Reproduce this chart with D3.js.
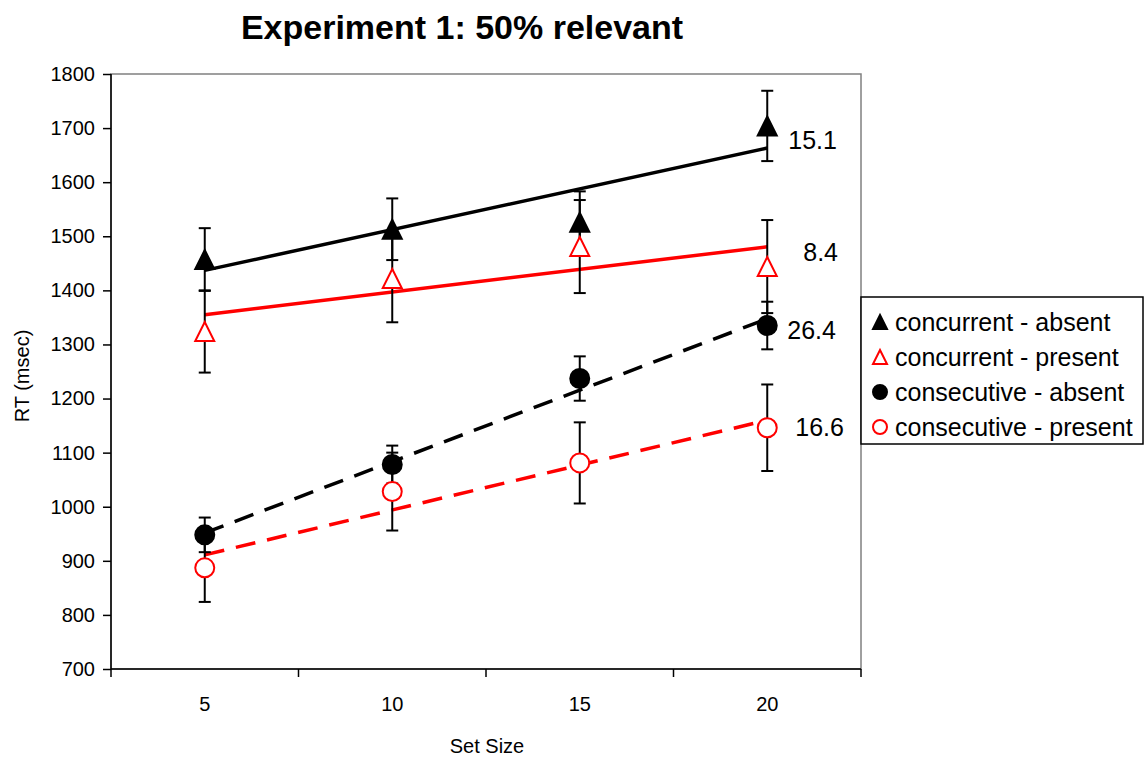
<!DOCTYPE html>
<html>
<head>
<meta charset="utf-8">
<script src="https://cdn.jsdelivr.net/npm/d3@7"></script>
<style>
  body { margin: 0; background: white; }
  text { font-family: Arial, "Liberation Sans", sans-serif; }
</style>
</head>
<body>
<div id="chart"></div>
<script>
// Datos
var setSizes = [5, 10, 15, 20];
var seriesNames = ["concurrent - absent", "concurrent - present", "consecutive - absent", "consecutive - present"];

var concAbsent    = [1457, 1513, 1526, 1704];
var concAbsentSE  = [58, 57, 57, 65];
var concPresent   = [1324, 1422, 1481, 1444];
var concPresentSE = [76, 81, 86, 86];
var consAbsent    = [948, 1078, 1237, 1335];
var consAbsentSE  = [32, 35, 41, 44];
var consPresent   = [887, 1028, 1081, 1146];
var consPresentSE = [63, 72, 75, 80];

var yTicks = [700, 800, 900, 1000, 1100, 1200, 1300, 1400, 1500, 1600, 1700, 1800];

// estilos por serie
var estilos = [
  {shape: "triangle", color: "black", fill: "black", dash: null, ldx: 21, ldy: -8},
  {shape: "triangle", color: "red",   fill: "white", dash: null, ldx: 36, ldy: 5},
  {shape: "circle",   color: "black", fill: "black", dash: "20,12", ldx: 20, ldy: 11},
  {shape: "circle",   color: "red",   fill: "white", dash: "20,12", ldx: 28, ldy: 7}
];

var series = [
  {name: seriesNames[0], values: concAbsent,  se: concAbsentSE},
  {name: seriesNames[1], values: concPresent, se: concPresentSE},
  {name: seriesNames[2], values: consAbsent,  se: consAbsentSE},
  {name: seriesNames[3], values: consPresent, se: consPresentSE}
];

var width = 1144, height = 757;
var margin = {top: 74, left: 111, right: 283, bottom: 88};

var svg = d3.select("#chart").append("svg")
  .attr("width", width)
  .attr("height", height);

svg.append("rect").attr("width", width).attr("height", height).attr("fill", "white");

var x = d3.scaleBand()
  .domain(setSizes)
  .range([margin.left, width - margin.right]);

var y = d3.scaleLinear()
  .domain([700, 1800])
  .range([height - margin.bottom, margin.top]);

var cx = function(d) { return x(d) + x.bandwidth() / 2; };

// borde del area de grafico
svg.append("rect")
  .attr("x", margin.left).attr("y", margin.top)
  .attr("width", width - margin.right - margin.left)
  .attr("height", height - margin.bottom - margin.top)
  .attr("fill", "none").attr("stroke", "#808080").attr("stroke-width", 1.5);

// Ejes
var ejeY = d3.axisLeft(y).tickValues(yTicks).tickFormat(d3.format("d")).tickSize(8).tickPadding(8);
var gY = svg.append("g")
  .attr("transform", "translate(" + margin.left + ",0)")
  .call(ejeY);
gY.selectAll("text").style("font-size", "20px").attr("fill", "black");
gY.selectAll("line, path").attr("stroke", "black").attr("stroke-width", 1.5);
gY.select(".domain").attr("d", "M0," + y(700) + "V" + y(1800));

var gX = svg.append("g")
  .attr("transform", "translate(0," + y(700) + ")");
gX.append("line")
  .attr("x1", margin.left).attr("x2", width - margin.right)
  .attr("stroke", "black").attr("stroke-width", 1.5);
var bordes = setSizes.map(function(d) { return x(d); }).concat([width - margin.right]);
gX.selectAll(".tk").data(bordes).join("line")
  .attr("class", "tk")
  .attr("x1", d => d).attr("x2", d => d)
  .attr("y1", 0).attr("y2", 8)
  .attr("stroke", "black").attr("stroke-width", 1.5);
gX.selectAll(".lbl").data(setSizes).join("text")
  .attr("class", "lbl")
  .attr("x", cx).attr("y", 42)
  .attr("text-anchor", "middle")
  .style("font-size", "20px")
  .text(d => d);

// titulos
svg.append("text")
  .attr("x", 462).attr("y", 39)
  .attr("text-anchor", "middle")
  .style("font-size", "34px").style("font-weight", "bold")
  .text("Experiment 1: 50% relevant");

svg.append("text")
  .attr("x", 487).attr("y", 753)
  .attr("text-anchor", "middle")
  .style("font-size", "20px")
  .text("Set Size");

svg.append("text")
  .attr("transform", "translate(29,376) rotate(-90)")
  .attr("text-anchor", "middle")
  .style("font-size", "20px")
  .text("RT (msec)");

// regresion lineal para las lineas de tendencia
function regresion(xs, ys) {
  var mx = d3.mean(xs), my = d3.mean(ys);
  var sxy = d3.sum(xs, (v, i) => (v - mx) * (ys[i] - my));
  var sxx = d3.sum(xs, v => (v - mx) * (v - mx));
  var b = sxy / sxx;
  return {slope: b, intercept: my - b * mx};
}

function triangulo(w, h) {
  return "M0," + (-h / 2) + "L" + (w / 2) + "," + (h / 2) + "L" + (-w / 2) + "," + (h / 2) + "Z";
}

function marcador(g, st, size) {
  if (st.shape === "triangle") {
    return g.append("path").attr("d", triangulo(size, size))
      .attr("fill", st.fill).attr("stroke", st.color).attr("stroke-width", 2);
  }
  return g.append("circle").attr("r", size / 2)
    .attr("fill", st.fill).attr("stroke", st.color).attr("stroke-width", 2);
}

// lineas de tendencia
series.forEach(function(s, i) {
  var st = estilos[i];
  var r = regresion(setSizes, s.values);
  var x0 = setSizes[0], x1 = setSizes[setSizes.length - 1];
  var linea = svg.append("line")
    .attr("x1", cx(x0)).attr("y1", y(r.intercept + r.slope * x0))
    .attr("x2", cx(x1)).attr("y2", y(r.intercept + r.slope * x1))
    .attr("stroke", st.color).attr("stroke-width", 3.5);
  if (st.dash) linea.attr("stroke-dasharray", st.dash);

  svg.append("text")
    .attr("x", cx(x1) + st.ldx)
    .attr("y", y(r.intercept + r.slope * x1) + st.ldy)
    .attr("dy", "0.36em")
    .style("font-size", "25px")
    .text(d3.format(".1f")(r.slope));
});

// barras de error
series.forEach(function(s) {
  var g = svg.append("g").attr("stroke", "black").attr("stroke-width", 2);
  setSizes.forEach(function(k, j) {
    var px = cx(k);
    var top = y(s.values[j] + s.se[j]), bot = y(s.values[j] - s.se[j]);
    g.append("line").attr("x1", px).attr("x2", px).attr("y1", top).attr("y2", bot);
    g.append("line").attr("x1", px - 6).attr("x2", px + 6).attr("y1", top).attr("y2", top);
    g.append("line").attr("x1", px - 6).attr("x2", px + 6).attr("y1", bot).attr("y2", bot);
  });
});

// marcadores
series.forEach(function(s, i) {
  var st = estilos[i];
  setSizes.forEach(function(k, j) {
    var g = svg.append("g").attr("transform", "translate(" + cx(k) + "," + y(s.values[j]) + ")");
    marcador(g, st, 19);
  });
});

// leyenda
var leg = svg.append("g");
leg.append("rect")
  .attr("x", 861).attr("y", 297).attr("width", 282).attr("height", 147)
  .attr("fill", "white").attr("stroke", "black").attr("stroke-width", 1.5);
series.forEach(function(s, i) {
  var ry = 322 + i * 35;
  var g = leg.append("g").attr("transform", "translate(880," + ry + ")");
  marcador(g, estilos[i], 14);
  leg.append("text")
    .attr("x", 895).attr("y", ry).attr("dy", "0.36em")
    .style("font-size", "25px")
    .text(s.name);
});
</script>
</body>
</html>
